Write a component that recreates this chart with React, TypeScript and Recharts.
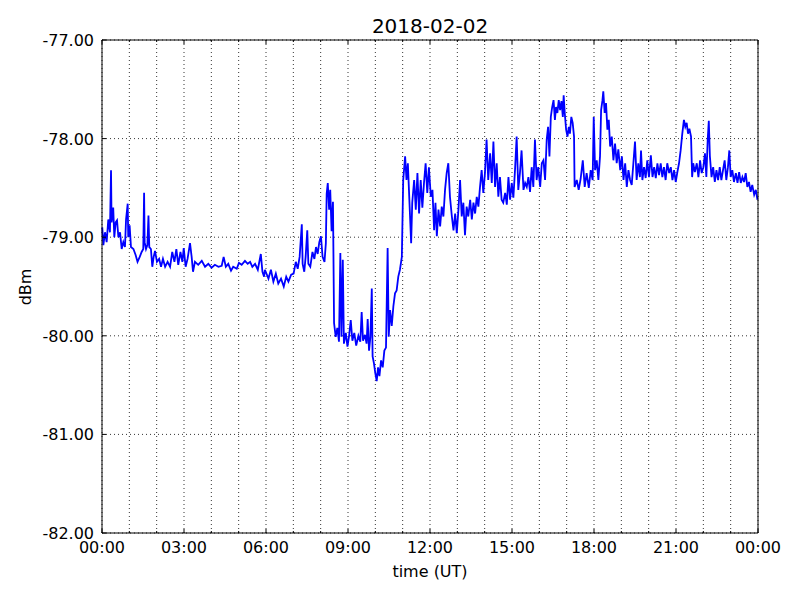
import { LineChart, Line, XAxis, YAxis, CartesianGrid } from "recharts";

// signal level readings, time in hours (UT) and level in dBm
const hoursA = [
  0.01, 0.05, 0.11, 0.17, 0.23, 0.29, 0.33, 0.35, 0.41, 0.45,
  0.5, 0.55, 0.6, 0.66, 0.72, 0.78, 0.84, 0.88, 0.94, 0.96,
  1.01, 1.06, 1.15, 1.23, 1.3, 1.38, 1.45, 1.51, 1.54, 1.56,
  1.61, 1.66, 1.7, 1.73, 1.79, 1.84, 1.89, 1.94, 2.01, 2.09,
  2.16, 2.23, 2.31, 2.4, 2.49, 2.57, 2.65, 2.72, 2.79, 2.87,
  2.94, 2.99, 3.06, 3.13, 3.22, 3.28, 3.33, 3.4, 3.52, 3.65,
  3.77, 3.89, 4.01, 4.13, 4.26, 4.38, 4.45, 4.53, 4.62, 4.72,
  4.8, 4.93, 5.01, 5.11, 5.23, 5.33, 5.42, 5.5, 5.6, 5.7,
  5.81, 5.87, 5.93,
];
const dbmA = [
  -78.9, -79.08, -78.95, -79.05, -78.82, -78.95, -78.32, -78.85, -78.7, -79.0,
  -78.85, -78.83, -79.0, -78.95, -79.12, -79.05, -79.1, -78.82, -78.66, -79.0,
  -78.88, -79.1, -79.12, -79.18, -79.25, -79.2, -79.15, -79.12, -78.55, -79.05,
  -79.12, -79.08, -78.78, -79.1, -79.12, -79.3, -79.2, -79.14, -79.25, -79.22,
  -79.3, -79.22, -79.3, -79.25, -79.3, -79.15, -79.25, -79.12, -79.28, -79.15,
  -79.25, -79.11, -79.3, -79.22, -79.06, -79.2, -79.35, -79.25, -79.28, -79.24,
  -79.3, -79.27, -79.31, -79.28, -79.3, -79.29, -79.2, -79.3, -79.27, -79.34,
  -79.3, -79.32, -79.26, -79.28, -79.24, -79.27, -79.25, -79.3, -79.27, -79.33,
  -79.17, -79.35, -79.4,
];

const hoursB = [
  5.96, 6.09, 6.18, 6.27, 6.36, 6.45, 6.55, 6.65, 6.74, 6.82,
  6.92, 7.01, 7.09, 7.16, 7.23, 7.31, 7.34, 7.4, 7.45, 7.51,
  7.55, 7.62, 7.7, 7.77, 7.83, 7.89, 7.95, 8.01, 8.07, 8.14,
  8.19, 8.22, 8.26, 8.31, 8.35, 8.4, 8.45, 8.49, 8.55, 8.61,
  8.67, 8.72, 8.76, 8.81, 8.85, 8.92, 8.98, 9.04, 9.1, 9.16,
  9.23, 9.3, 9.38, 9.45, 9.5, 9.55, 9.62, 9.68, 9.72, 9.77,
  9.82, 9.87, 9.9, 9.95, 10.0, 10.05, 10.1, 10.15, 10.21, 10.27,
  10.33, 10.39, 10.45, 10.49, 10.54, 10.6, 10.66, 10.72, 10.78, 10.84,
  10.9, 10.97,
];
const dbmB = [
  -79.33, -79.42, -79.33, -79.45, -79.37, -79.47, -79.42, -79.5, -79.4, -79.45,
  -79.38, -79.37, -79.25, -79.32, -79.2, -78.87, -79.27, -79.35, -79.2, -78.93,
  -79.27, -79.3, -79.15, -79.22, -79.1, -79.17, -79.05, -78.99, -79.2, -79.25,
  -79.06, -78.56, -78.45, -78.72, -78.52, -78.94, -78.64, -79.87, -80.01, -79.92,
  -80.06, -79.16, -80.01, -79.23, -80.08, -79.97, -80.11, -80.0, -79.84, -80.05,
  -79.97, -80.1, -80.0, -80.06, -79.76, -80.05, -79.99, -80.08, -79.83, -80.15,
  -80.01, -79.52, -80.21, -80.28, -80.38, -80.46, -80.32, -80.41, -80.25, -80.32,
  -80.15, -80.12, -79.11, -80.01, -79.74, -79.9, -79.7, -79.57, -79.54, -79.4,
  -79.33, -79.2,
];

const hoursC = [
  11.02, 11.09, 11.14, 11.19, 11.23, 11.31, 11.35, 11.42, 11.48, 11.54,
  11.6, 11.66, 11.72, 11.78, 11.84, 11.9, 11.96, 12.03, 12.09, 12.15,
  12.2, 12.25, 12.31, 12.37, 12.43, 12.49, 12.55, 12.61, 12.67, 12.73,
  12.8, 12.86, 12.92, 12.98, 13.04, 13.1, 13.16, 13.22, 13.28, 13.34,
  13.4, 13.47, 13.53, 13.59, 13.65, 13.71, 13.77, 13.83, 13.89, 13.95,
  14.01, 14.07, 14.13, 14.2, 14.26, 14.32, 14.38, 14.44, 14.5, 14.56,
  14.62, 14.68, 14.75, 14.81, 14.87, 14.93, 14.99, 15.05, 15.11, 15.17,
  15.23, 15.29, 15.35, 15.42, 15.48, 15.54, 15.6, 15.66, 15.72, 15.78,
  15.84, 15.9, 15.96, 16.03, 16.09, 16.15, 16.21, 16.27, 16.32, 16.37,
  16.42, 16.47, 16.52, 16.57, 16.61, 16.66, 16.71, 16.76, 16.81, 16.86,
  16.89, 16.93, 16.98, 17.03, 17.08, 17.12, 17.17, 17.22, 17.27,
];
const dbmC = [
  -78.42, -78.18, -78.42, -78.25, -78.52, -79.06, -78.65, -78.42, -78.72, -78.35,
  -78.76, -78.42, -78.7, -78.45, -78.25, -78.55, -78.29, -78.59, -78.52, -78.93,
  -78.65, -78.99, -78.72, -78.89, -78.69, -78.79, -78.52, -78.35, -78.25, -78.59,
  -78.79, -78.93, -78.76, -78.96, -78.72, -78.42, -78.79, -78.65, -78.98, -78.69,
  -78.79, -78.62, -78.82, -78.65, -78.76, -78.59, -78.69, -78.49, -78.32, -78.55,
  -78.35, -78.01, -78.42, -78.15, -78.45, -78.03, -78.49, -78.25, -78.59, -78.39,
  -78.62, -78.65, -78.55, -78.67, -78.39, -78.62, -78.45, -78.6, -78.32, -77.98,
  -78.52, -78.35, -78.12, -78.52, -78.45, -78.49, -78.39, -78.54, -78.29, -78.49,
  -78.01, -78.42, -78.29, -78.49, -78.25, -78.22, -78.42, -78.01, -77.88, -78.18,
  -77.78, -77.68, -77.61, -77.81, -77.68, -77.74, -77.61, -77.71, -77.62, -77.78,
  -77.56, -77.74, -77.91, -77.98, -77.88, -77.95, -77.78, -77.84, -77.98,
];

const hoursD = [
  17.29, 17.37, 17.44, 17.51, 17.59, 17.66, 17.73, 17.81, 17.88, 17.95,
  17.99, 18.04, 18.1, 18.16, 18.22, 18.26, 18.31, 18.34, 18.39, 18.44,
  18.49, 18.54, 18.59, 18.65, 18.71, 18.77, 18.83, 18.89, 18.96, 19.02,
  19.08, 19.14, 19.2, 19.26, 19.32, 19.38, 19.44, 19.5, 19.56, 19.62,
  19.68, 19.72, 19.77, 19.83, 19.89, 19.95, 20.01, 20.08, 20.14, 20.2,
  20.26, 20.32, 20.38, 20.44, 20.5, 20.56, 20.62, 20.68, 20.75, 20.81,
  20.87, 20.93, 20.99, 21.05, 21.11, 21.17, 21.23, 21.29, 21.34, 21.39,
  21.44, 21.49, 21.55, 21.59, 21.63, 21.69, 21.76, 21.82, 21.88, 21.94,
  22.0, 22.06, 22.11, 22.16, 22.2, 22.24, 22.3, 22.36, 22.42, 22.48,
  22.54, 22.6, 22.66, 22.72, 22.78, 22.84, 22.9, 22.95, 23.0, 23.06,
  23.12, 23.19, 23.25, 23.31, 23.37, 23.43, 23.49, 23.55, 23.61, 23.67,
  23.73, 23.79, 23.86, 23.92, 23.98,
];
const dbmD = [
  -78.49, -78.42, -78.52, -78.41, -78.22, -78.49, -78.35, -78.5, -78.32, -78.42,
  -77.78, -78.32, -78.22, -78.42, -78.18, -77.71, -77.61, -77.52, -77.74, -77.64,
  -77.91, -77.81, -78.08, -77.98, -78.22, -78.05, -78.25, -78.11, -78.32, -78.18,
  -78.42, -78.25, -78.49, -78.32, -78.42, -78.47, -78.25, -78.03, -78.42, -78.25,
  -78.39, -78.12, -78.42, -78.29, -78.4, -78.22, -78.39, -78.17, -78.39, -78.29,
  -78.4, -78.25, -78.37, -78.25, -78.39, -78.29, -78.42, -78.25, -78.35, -78.29,
  -78.42, -78.32, -78.44, -78.34, -78.25, -78.12, -77.95, -77.81, -77.88, -77.84,
  -77.95, -77.9, -77.98, -78.39, -78.25, -78.34, -78.25, -78.39, -78.22, -78.35,
  -78.29, -78.15, -78.39, -78.01, -77.82, -78.18, -78.39, -78.29, -78.44, -78.32,
  -78.42, -78.29, -78.42, -78.32, -78.22, -78.42, -78.29, -78.12, -78.39, -78.32,
  -78.44, -78.35, -78.45, -78.34, -78.45, -78.39, -78.44, -78.35, -78.49, -78.44,
  -78.54, -78.47, -78.57, -78.52, -78.62,
];

// ticks
const hourTicks = [0, 1, 2, 3, 4, 5, 6, 7, 8, 9, 10, 11, 12, 13, 14, 15, 16, 17, 18, 19, 20, 21, 22, 23, 24];
const timeLabels = ["00:00", "03:00", "06:00", "09:00", "12:00", "15:00", "18:00", "21:00", "00:00"];
const dbmTicks = [-82, -81, -80, -79, -78, -77];

const title = "2018-02-02";
const xLabel = "time (UT)";
const yLabel = "dBm";

const hours = [...hoursA, ...hoursB, ...hoursC, ...hoursD];
const dbm = [...dbmA, ...dbmB, ...dbmC, ...dbmD];
const data = hours.map((t, i) => ({ t, dbm: dbm[i] }));

const font = "'DejaVu Sans', sans-serif";

const BottomTick = ({ x, y, payload }: any) => {
  const h = payload.value;
  const major = h % 3 === 0;
  return (
    <g>
      <line x1={x} y1={y} x2={x} y2={y - (major ? 4 : 2)} stroke="#000" />
      {major && (
        <text x={x} y={y + 20} textAnchor="middle" fontSize={16} fontFamily={font} fill="#000">
          {timeLabels[h / 3]}
        </text>
      )}
    </g>
  );
};

const TopTick = ({ x, y, payload }: any) => {
  const major = payload.value % 3 === 0;
  return <line x1={x} y1={y} x2={x} y2={y + (major ? 4 : 2)} stroke="#000" />;
};

const LeftTick = ({ x, y, payload }: any) => (
  <g>
    <line x1={x} y1={y} x2={x + 4} y2={y} stroke="#000" />
    <text x={x - 8} y={y + 6} textAnchor="end" fontSize={16} fontFamily={font} fill="#000">
      {payload.value.toFixed(2)}
    </text>
  </g>
);

const RightTick = ({ x, y }: any) => <line x1={x} y1={y} x2={x - 4} y2={y} stroke="#000" />;

export default function App() {
  return (
    <div style={{ position: "absolute", left: 0, top: 0, width: 800, height: 600, background: "#fff" }}>
      <LineChart width={800} height={600} data={data} margin={{ top: 30, right: 32, bottom: 37, left: 42 }}>
        <CartesianGrid stroke="#000" strokeWidth={0.8} strokeDasharray="1 3" />
        <XAxis
          dataKey="t"
          type="number"
          domain={[0, 24]}
          ticks={hourTicks}
          interval={0}
          height={30}
          tickSize={0}
          tickMargin={0}
          axisLine={{ stroke: "#000" }}
          tickLine={false}
          tick={(p: any) => <BottomTick {...p} />}
        />
        <XAxis
          xAxisId="top"
          orientation="top"
          dataKey="t"
          type="number"
          domain={[0, 24]}
          ticks={hourTicks}
          interval={0}
          height={10}
          tickSize={0}
          tickMargin={0}
          axisLine={{ stroke: "#000" }}
          tickLine={false}
          tick={(p: any) => <TopTick {...p} />}
        />
        <YAxis
          type="number"
          domain={[-82, -77]}
          ticks={dbmTicks}
          interval={0}
          width={60}
          tickSize={0}
          tickMargin={0}
          axisLine={{ stroke: "#000" }}
          tickLine={false}
          tick={(p: any) => <LeftTick {...p} />}
        />
        <YAxis
          yAxisId="right"
          orientation="right"
          type="number"
          domain={[-82, -77]}
          ticks={dbmTicks}
          interval={0}
          width={10}
          tickSize={0}
          tickMargin={0}
          axisLine={{ stroke: "#000" }}
          tickLine={false}
          tick={(p: any) => <RightTick {...p} />}
        />
        <Line
          type="linear"
          dataKey="dbm"
          stroke="#0000ff"
          strokeWidth={1.8}
          dot={false}
          isAnimationActive={false}
        />
      </LineChart>
      <svg width={800} height={600} style={{ position: "absolute", left: 0, top: 0, pointerEvents: "none" }}>
        <text x={430} y={33} textAnchor="middle" fontSize={20} fontFamily={font} fill="#000">
          {title}
        </text>
        <text x={430} y={577} textAnchor="middle" fontSize={16} fontFamily={font} fill="#000">
          {xLabel}
        </text>
        <text x={31} y={287} textAnchor="middle" fontSize={16} fontFamily={font} fill="#000" transform="rotate(-90 31 287)">
          {yLabel}
        </text>
      </svg>
    </div>
  );
}
